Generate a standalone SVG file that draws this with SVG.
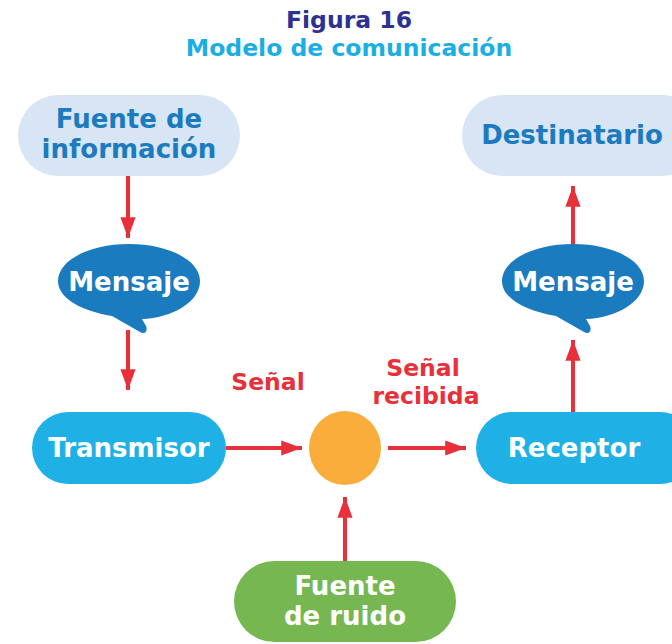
<svg xmlns="http://www.w3.org/2000/svg" width="672" height="644" viewBox="0 0 672 644">
<style>
text{font-family:"DejaVu Sans","Verdana",sans-serif;font-weight:bold;text-anchor:middle}
.lbl{font-size:26px}
.light{fill:#d7e5f4}
.dt{fill:#1c7bbf}
.wt{fill:#ffffff}
.msg{fill:#1a7bbf}
.pill{fill:#1fb1e6}
.conn line{stroke:#e8303a;stroke-width:4}
.rt{fill:#e8303a;font-size:23.5px}
</style>
<defs>
<marker id="ah" viewBox="0 0 10 10" refX="10" refY="5" markerWidth="5.2" markerHeight="3.8" orient="auto" markerUnits="strokeWidth" preserveAspectRatio="none">
<path d="M0,0 L10,5 L0,10 z" fill="#e8303a"/>
</marker>
</defs>
<rect width="672" height="644" fill="#ffffff"/>
<g id="title">
<text x="349" y="28" font-size="23.5" fill="#2e3192">Figura 16</text>
<text x="349" y="56" font-size="23.5" fill="#1aaee5">Modelo de comunicación</text>
</g>
<g class="conn">
<line x1="128" y1="176" x2="128" y2="238" marker-end="url(#ah)"/>
<line x1="128" y1="330" x2="128" y2="390" marker-end="url(#ah)"/>
<line x1="226" y1="448" x2="302" y2="448" marker-end="url(#ah)"/>
<line x1="388" y1="448" x2="466" y2="448" marker-end="url(#ah)"/>
<line x1="345" y1="561" x2="345" y2="497" marker-end="url(#ah)"/>
<line x1="573" y1="412" x2="573" y2="340" marker-end="url(#ah)"/>
<line x1="573" y1="245" x2="573" y2="186" marker-end="url(#ah)"/>
</g>
<g id="fuente-info">
<rect x="18" y="95" width="222" height="81" rx="40.5" class="light"/>
<text class="lbl dt" x="129" y="128">Fuente de</text>
<text class="lbl dt" x="129" y="158">información</text>
</g>
<g id="destinatario">
<rect x="462" y="95" width="240" height="81" rx="40.5" class="light"/>
<text class="lbl dt" x="572" y="144">Destinatario</text>
</g>
<g id="mensaje-1">
<path class="msg" d="M129,244 C168,244 200,260 200,281 C200,302 172,318 142,319 L146,326 C148,331 145,335 140,332 L112,316 C81,311 58,298 58,281 C58,260 90,244 129,244 Z"/>
<text class="lbl wt" x="129" y="291">Mensaje</text>
</g>
<g id="mensaje-2">
<path class="msg" d="M573,244 C612,244 644,260 644,281 C644,302 616,318 586,319 L590,326 C592,331 589,335 584,332 L556,316 C525,311 502,298 502,281 C502,260 534,244 573,244 Z"/>
<text class="lbl wt" x="573" y="291">Mensaje</text>
</g>
<g id="transmisor">
<rect x="32" y="412" width="194" height="72" rx="36" class="pill"/>
<text class="lbl wt" x="129" y="457">Transmisor</text>
</g>
<g id="ruido-punto">
<ellipse cx="345" cy="448" rx="36" ry="37" fill="#f9ad3b"/>
</g>
<g id="receptor">
<rect x="476" y="412" width="220" height="72" rx="36" class="pill"/>
<text class="lbl wt" x="574" y="457">Receptor</text>
</g>
<g id="fuente-ruido">
<rect x="234" y="561" width="222" height="81" rx="40.5" fill="#76b751"/>
<text class="lbl wt" x="345" y="595">Fuente</text>
<text class="lbl wt" x="345" y="625">de ruido</text>
</g>
<g id="labels">
<text class="rt" x="268" y="390">Señal</text>
<text class="rt" x="423" y="376">Señal</text>
<text class="rt" x="426" y="404">recibida</text>
</g>
</svg>
